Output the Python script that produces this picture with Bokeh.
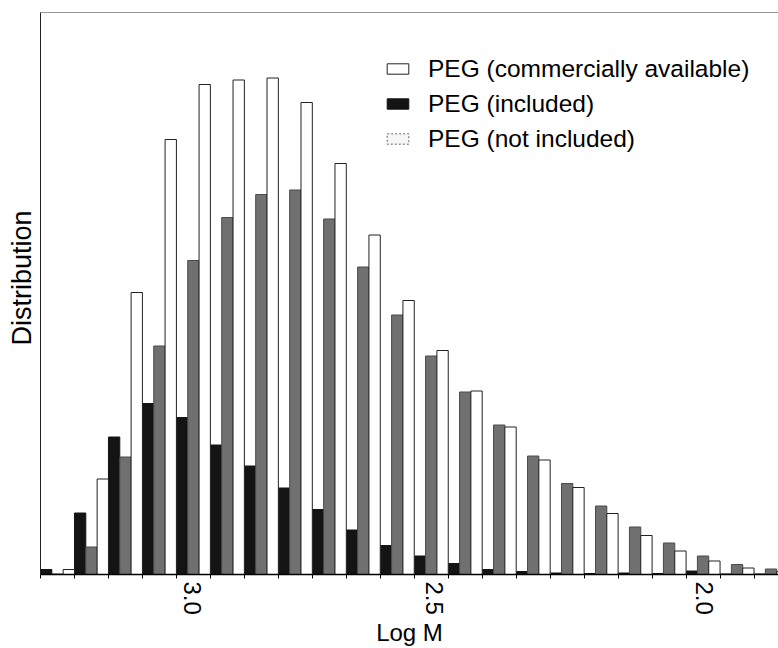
from bokeh.plotting import figure
from bokeh.models import FixedTicker, Range1d, Legend, LegendItem, Span, Title
from bokeh.embed import file_html
from bokeh.resources import INLINE

# ---- data ----
bins = list(range(22))  # GPC slices, high M on the left
included = [1.0, 12.3, 27.5, 34.2, 31.4, 25.9, 21.7, 17.3, 13.0, 8.9, 5.8, 3.7,
            2.2, 1.0, 0.6, 0.3, 0.2, 0.3, 0.2, 0.7, 0.1, 0.1]
not_included = [0.1, 5.5, 23.5, 45.7, 62.8, 71.4, 76.0, 76.9, 71.1, 61.5, 51.9, 43.7,
                36.5, 29.9, 23.7, 18.2, 13.7, 9.5, 6.3, 3.7, 2.0, 1.1]
commercial = [1.0, 19.1, 56.4, 87.0, 98.0, 98.9, 99.3, 94.4, 82.2, 67.9, 54.8, 44.8,
              36.7, 29.5, 22.9, 17.4, 12.2, 7.8, 4.7, 2.7, 1.3, 0.6]
tick_pos = [4.46, 11.6, 19.54]       # positions of the Log M labels along the slices
tick_labels = ["3.0", "2.5", "2.0"]
labels = ["PEG (commercially available)", "PEG (included)", "PEG (not included)"]

FONT = "Liberation Sans"
third = 1.0 / 3.0

p = figure(width=778, height=648, output_backend="svg", toolbar_location=None,
           x_range=Range1d(0, 21.72), y_range=Range1d(0, 112.4),
           min_border_left=0, min_border_right=0, min_border_top=12, min_border_bottom=0)

xb = [b + third / 2 for b in bins]
xg = [b + 1.5 * third for b in bins]
xw = [b + 2.5 * third for b in bins]

r_black = p.vbar(x=xb, top=included, width=third, bottom=0,
                 fill_color="#141414", line_color="#141414", line_width=1)
r_grey = p.vbar(x=xg, top=not_included, width=third, bottom=0,
                fill_color="#707070", line_color="#4a4a4a", line_width=1)
r_white = p.vbar(x=xw, top=commercial, width=third, bottom=0,
                 fill_color="white", line_color="#222222", line_width=1)
# legend-only proxy for the faint "not included" swatch (hidden in the plot)
r_proxy = p.vbar(x=xg, top=not_included, width=third, bottom=0, fill_color="#f6f6f6",
                 line_color="#666666", line_width=1, line_dash="2 2", visible=False)

p.xgrid.visible = False
p.ygrid.visible = False
p.outline_line_color = None
p.background_fill_color = "white"
p.border_fill_color = "white"

top_line = Span(location=112.4, dimension="width", line_color="#333333", line_width=1)
p.add_layout(top_line)

# x axis
xa = p.xaxis[0]
xa.ticker = FixedTicker(ticks=tick_pos, minor_ticks=[float(b) for b in bins])
xa.major_label_overrides = {t: l for t, l in zip(tick_pos, tick_labels)}
xa.major_label_orientation = "vertical"
xa.major_tick_out = 0
xa.major_tick_in = 0
xa.minor_tick_out = 4
xa.minor_tick_in = 0
xa.minor_tick_line_color = "black"
xa.axis_line_color = "black"
xa.axis_line_width = 1.5
xa.major_label_text_font = FONT
xa.major_label_text_font_size = "24px"
xa.major_label_text_color = "black"
xa.major_label_standoff = 3
xa.axis_label = "Log M"
xa.axis_label_text_font = FONT
xa.axis_label_text_font_size = "24px"
xa.axis_label_text_font_style = "normal"
xa.axis_label_text_color = "black"
xa.axis_label_standoff = 1

# y axis (no ticks); its label is a side title so it can sit a little above centre
ya = p.yaxis[0]
ya.ticker = FixedTicker(ticks=[])
ya.major_tick_out = 0
ya.major_tick_in = 0
ya.minor_tick_out = 0
ya.major_label_standoff = 0
ya.axis_line_color = "#222222"
ya.axis_line_width = 1

ytitle = Title(text="Distribution", align="left", offset=229, standoff=8,
               text_font=FONT, text_font_size="27px", text_font_style="normal",
               text_color="black")
p.add_layout(ytitle, "left")

legend = Legend(items=[LegendItem(label=labels[0], renderers=[r_white]),
                       LegendItem(label=labels[1], renderers=[r_black]),
                       LegendItem(label=labels[2], renderers=[r_proxy])],
                location=(344, 418))
legend.padding = 0
legend.margin = 0
legend.spacing = 0
legend.border_line_color = None
legend.background_fill_alpha = 0
legend.inactive_fill_alpha = 0
legend.glyph_width = 27
legend.glyph_height = 13
legend.label_height = 35
legend.label_standoff = 17
legend.label_text_font = FONT
legend.label_text_font_size = "24.5px"
legend.label_text_color = "black"
p.add_layout(legend)

open("out.html", "w").write(file_html(p, INLINE))
